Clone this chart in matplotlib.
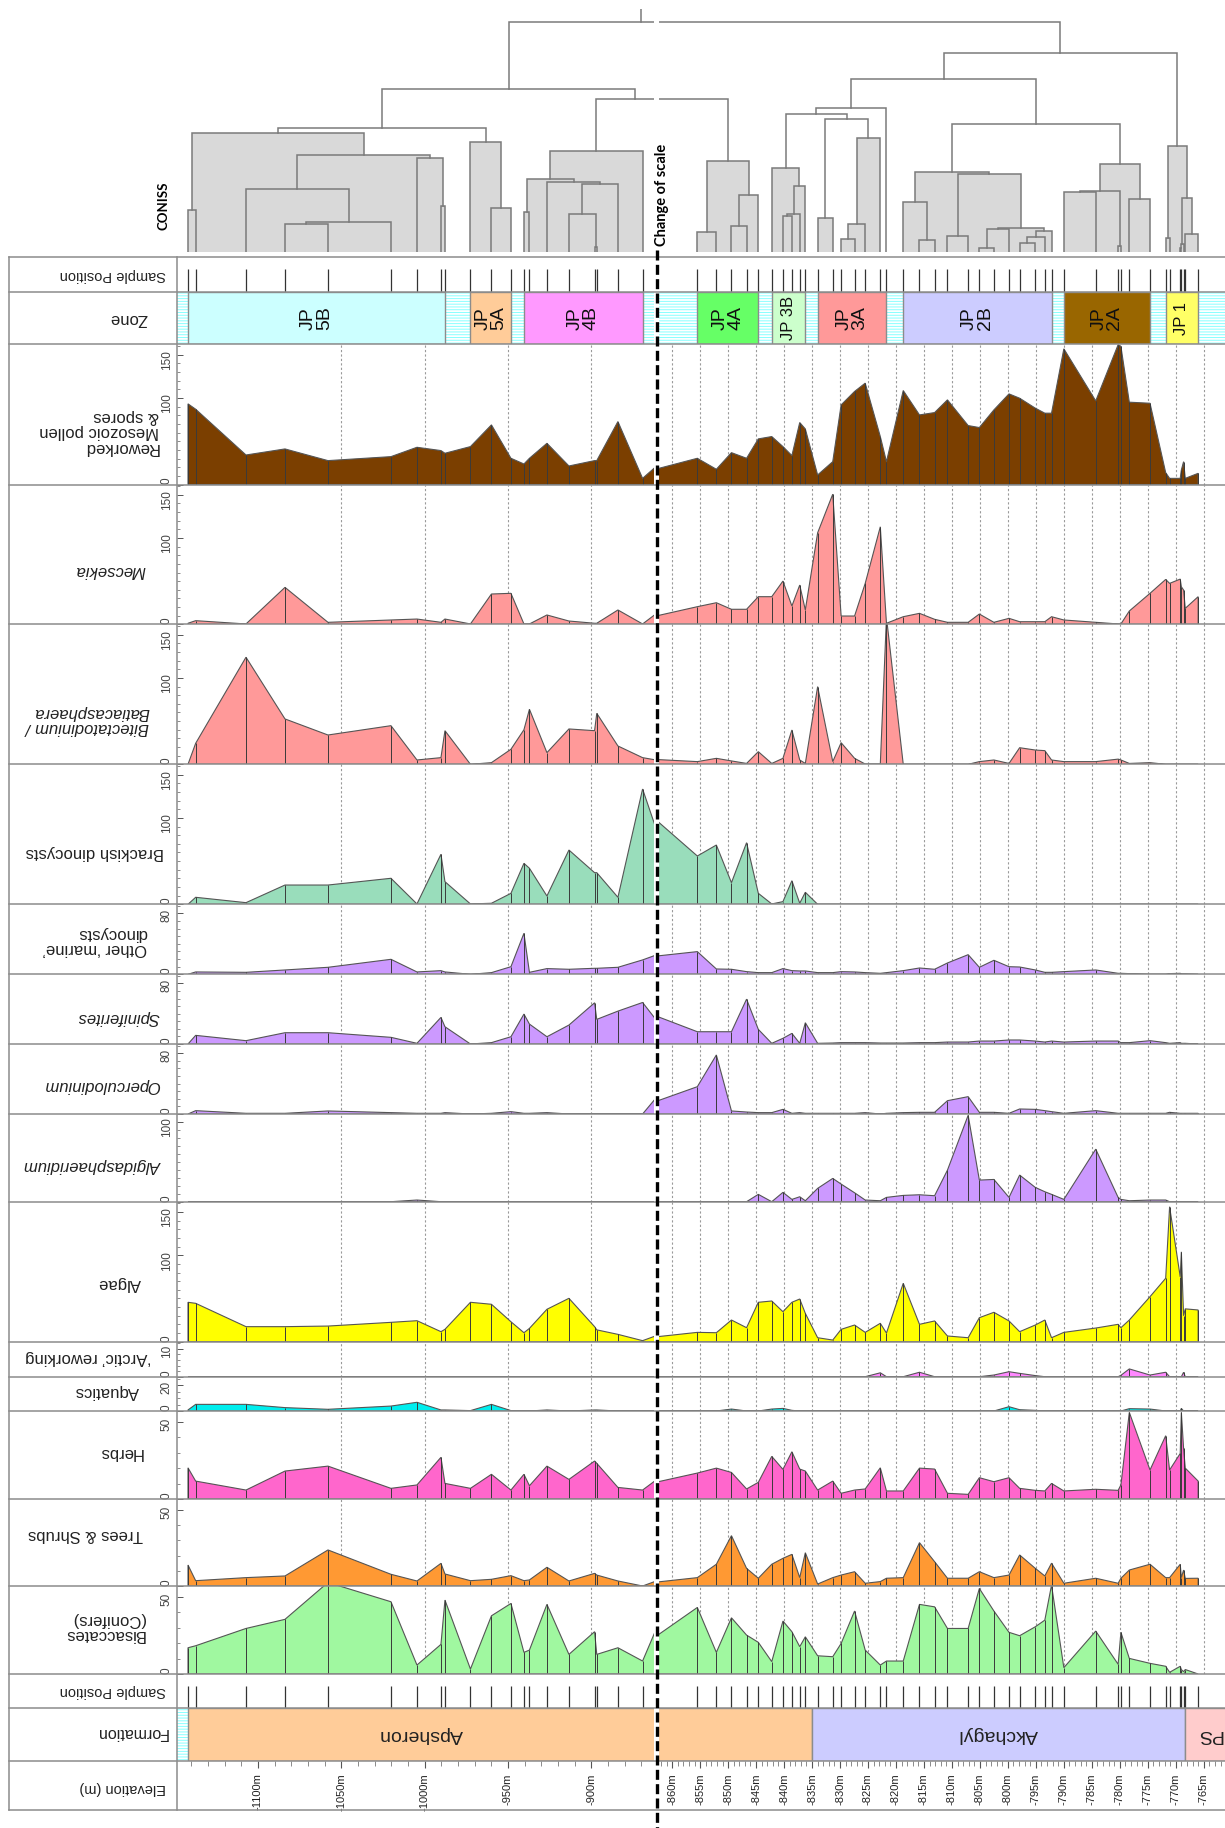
import numpy as np
import matplotlib
matplotlib.use("Agg")
import matplotlib.pyplot as plt
from matplotlib.patches import Rectangle
from matplotlib.lines import Line2D
from matplotlib.ticker import FixedLocator, MultipleLocator, FuncFormatter

# ------------------------------------------------------------------ data
elevation = [
    -1142.0, -1137.4, -1107.2, -1083.8, -1058.0, -1020.2, -1004.6, -990.2, -987.8, -972.5,
    -959.9, -948.2, -940.4, -937.1, -926.6, -913.4, -898.0, -896.7, -884.0, -869.2,
    -855.5, -852.1, -849.4, -846.7, -844.6, -842.2, -840.2, -838.6, -837.2, -836.2,
    -834.0, -831.3, -829.8, -827.4, -825.5, -822.8, -821.7, -818.7, -815.8, -813.1,
    -810.8, -807.1, -805.1, -802.5, -799.8, -797.9, -795.1, -793.4, -792.2, -790.0,
    -784.3, -780.3, -779.8, -778.3, -774.6, -771.8, -771.1, -769.2, -769.0, -768.6,
    -768.3, -766.0]

reworked = [93.2, 87, 34.1, 41.1, 27.6, 32.2, 43, 39.2, 36.1, 43.8, 68.9, 30.3, 23.7, 30.3, 47.6,
            21.4, 27.6, 27.6, 72.7, 7.1,
            30.3, 17.6, 36.8, 30.3, 52.7, 55.4, 43.8, 33.4, 71.6, 64.2, 11, 26.4, 92, 107.5, 117.1,
            55.4, 26.4, 108.6, 80.4, 83.1, 97.8, 68.1, 65.8, 86.2, 104.7, 99.7, 88.2, 82.4, 82.4,
            156.8, 96.6, 161.5, 159.5, 95.1, 93.9, 13.7, 7.1, 7.1, 16.8, 26.4, 7.1, 12.9]
mecsekia = [1.2, 4.2, 0.4, 42.8, 2.3, 5, 6.1, 2.3, 6.1, 0.4, 35.1, 35.9, 0.4, 0.4, 10.8, 3.8, 1.2,
            1.2, 16.6, 0.4,
            20.4, 25, 17.4, 17.4, 32, 32, 50.1, 21.2, 45.5, 16.6, 106, 150.8, 9.6, 9.6, 47.4, 113,
            1.2, 8.8, 12.7, 5.8, 2.3, 2.3, 11.9, 2.3, 6.9, 3, 3, 3, 8.8, 5, 2.3, 0.4, 0.4, 15.4,
            35.9, 52, 47.4, 52.4, 43.5, 39.7, 18.5, 32]
bitectatodinium = [0, 24.3, 123.9, 52.5, 33.9, 44.7, 5, 7.7, 38.9, 0, 1.9, 17.4, 40, 63.7, 13.5,
                   40.9, 38.9, 59, 21.2, 7.7,
                   3.1, 6.9, 3.9, 1, 14.6, 1, 6.9, 39.7, 5, 1, 89.9, 3.1, 25, 6.9, 0.3, 0.3, 170,
                   0, 0, 0, 0, 0, 3.1, 5, 1, 19.2, 16.5, 15.8, 5, 3.1, 3.1, 6, 5, 1, 1.9,
                   0, 0, 0, 0, 0, 0, 0]
brackish = [0, 8.1, 1.9, 22.3, 22.3, 30.1, 0.4, 57.9, 26.2, 0.4, 1.2, 12.7, 47.4, 41.7, 9.6, 62.8,
            36.6, 36.6, 8.1, 133.4,
            55.9, 68.6, 25, 71.3, 12.7, 0.4, 3.1, 27.3, 1.2, 13.9, 0, 0, 0, 0, 0, 0, 0, 0, 0, 0,
            0, 0, 0, 0, 0, 0, 0, 0, 0, 0, 0, 0, 0, 0, 0, 0, 0, 0, 0, 0, 0, 0]
other_marine = [0, 3.1, 2.6, 5.7, 9.2, 19.7, 3.1, 4.8, 3.1, 0, 2.2, 10, 53.9, 2.6, 7.5, 6.6, 7.9,
                7.9, 9.2, 18.9,
                29.8, 7, 6.6, 3.5, 2.2, 2.2, 7.5, 4.8, 4.4, 4.4, 2.2, 2.2, 3.5, 3.1, 2.2, 1.3, 2.2,
                4.8, 8.3, 6.6, 14.9, 25.8, 9.2, 18.4, 10, 9.6, 5.7, 2.6, 2.6, 3.5, 5.7, 1.3, 1.3,
                0.9, 0, 0, 0.9, 1.3, 0.5, 0.5, 0.5, 0]
spiniferites = [0, 11.4, 4.4, 14.9, 14.9, 8.8, 0.9, 35.1, 22.8, 0, 1.8, 9.6, 39.5, 26.3, 9.6, 25,
                54.4, 32.5, 43.4, 54.8,
                16.2, 16.2, 16.2, 59.2, 19.3, 0.9, 7.5, 14, 0.9, 28.1, 0.9, 1.3, 1.8, 1.8, 1.8,
                1.3, 1.3, 1.3, 1.8, 1.8, 2.6, 2.6, 3.9, 3.9, 5.3, 5.3, 3.9, 2.6, 3.9, 2.6, 3.9,
                3.9, 1.8, 1.8, 4.4, 1.8, 0.9, 1.8, 0.9, 0.9, 0.9, 0]
operculodinium = [0, 4.4, 0.9, 0.9, 4, 1.8, 0.9, 0.9, 1.8, 0, 0.9, 3.1, 0.9, 0.9, 1.8, 0, 0, 0,
                  0, 0,
                  35.9, 77.6, 4, 2.6, 1.8, 1.8, 6.1, 0.9, 1.8, 0.9, 0.9, 0.9, 0.9, 0.9, 1.8, 0,
                  0.9, 1.8, 2.2, 2.2, 17.5, 22.8, 2.2, 2.2, 0.9, 6.6, 6.1, 4.4, 3.1, 0.9, 4.4,
                  0.9, 0.9, 0.9, 0.9, 0.9, 2.2, 0.9, 0.9, 0.9, 0.9, 0.9]
algidasphaeridium = [0, 0, 0, 0, 0, 0, 2.1, 0, 0, 0, 0, 0, 0, 0, 0, 0, 0, 0, 0, 0,
                     0, 0, 0, 0, 9.2, 0, 11.7, 2.9, 6.2, 1.2, 16.7, 29.2, 22.1, 11.2, 2.1, 1.2,
                     5.4, 7.9, 8.7, 7.5, 39.6, 108.4, 27.1, 27.9, 5.4, 33.4, 17.9, 12.5, 9.2,
                     2.9, 65.9, 5.4, 2.9, 1.2, 2.1, 2.1, 0, 0, 0, 0, 0, 0]
algae = [45.6, 44.4, 17.4, 17.4, 18.1, 22.4, 24.3, 11.6, 14.3, 45.6, 43.3, 23.1, 10.4, 15.4, 37.5,
         50.2, 17.4, 13.7, 8.5, 1.2,
         10.8, 10.4, 25.1, 16.2, 45.6, 47.1, 34.7, 45.6, 49.4, 32.8, 4.6, 1.9, 14.3, 19.3, 10.8,
         21.3, 10, 67.6, 20.1, 24, 6.6, 4.6, 27.8, 34, 24, 11.6, 19.3, 25.1, 4.6, 10.8, 15.8,
         20.1, 16.2, 25.1, 52.1, 73.4, 156.2, 75, 104, 30, 38, 36.7]
arctic_reworking = [0, 0, 0, 0, 0, 0, 0, 0, 0, 0, 0, 0, 0, 0, 0, 0, 0, 0, 0, 0,
                    0, 0, 0, 0, 0, 0, 0, 0, 0, 0, 0, 0, 0, 0, 0, 1.4, 0, 0, 1.6, 0, 0, 0, 0,
                    0.6, 1.8, 1.2, 0.4, 0, 0, 0, 0, 0, 0.5, 2.8, 0.6, 1.6, 0, 0, 0, 1.6, 0, 0]
aquatics = [0.8, 5.1, 5.1, 2.6, 1.3, 3.8, 6.7, 0.8, 0.8, 0.3, 5.1, 0.3, 0, 0, 0.8, 0, 0.8, 0.8,
            0, 0,
            0, 0, 1.5, 0, 0, 1.5, 2, 0.5, 0, 0, 0, 0, 0, 0, 0, 0, 0, 0, 0, 0, 0, 0, 0, 0, 3.3,
            1, 0.5, 0, 0, 0, 0, 0, 0, 1.8, 1.5, 0, 0, 0, 2, 0, 0, 0]
herbs = [20.2, 11.6, 5.8, 18.1, 21.3, 6.9, 9.1, 27, 10.1, 6.9, 16, 5.8, 16, 8.6, 21.3, 12.7, 24.6,
         23.1, 7.5, 5.8,
         16.8, 20, 17.2, 6.5, 10.8, 27.6, 19.2, 30.6, 19.4, 18.1, 5.8, 11.6, 3.7, 5.8, 6.5, 20.2,
         5.2, 5.2, 20, 19.4, 3.7, 3, 13.8, 11.2, 13.8, 6.9, 5.6, 5.2, 10.1, 5.2, 6.3, 5.6, 9.1,
         56.1, 18.8, 41, 18.8, 29.5, 56.1, 32.8, 20, 11.6]
trees_shrubs = [13.8, 3.5, 5.5, 6.6, 23.7, 7.7, 3.3, 14.9, 7.9, 3.5, 4.4, 6.8, 3.5, 4, 12.3, 3.3,
                8.3, 7.2, 3.3, 0,
                5.5, 14.3, 33.1, 11.6, 5.1, 14.3, 18.2, 20.8, 5.5, 21.9, 1.3, 5.5, 7.2, 9.4, 1.8,
                2.9, 5.1, 5.5, 28.5, 16, 5.1, 5.1, 9.4, 5.5, 7.2, 20.4, 11.6, 6.6, 15, 1.8, 5.1,
                1.8, 5.1, 10.5, 14.3, 5.5, 5.5, 14.3, 5.5, 10.5, 5, 5.1]
bisaccates = [17, 18.3, 29.5, 35.4, 59.3, 46.8, 5.8, 19.2, 47.9, 3.2, 37.7, 45.7, 14, 15.5, 45.1,
              12.7, 27.4, 12.7, 17, 8.4,
              43.1, 14, 36.4, 25.2, 20.5, 8, 34.3, 27.4, 17.7, 24.1, 11.8, 11.2, 19.8, 40.8, 15.5,
              5.8, 8.4, 8.4, 45.1, 43.5, 29.5, 29.5, 55.4, 40.8, 27, 24.8, 30.6, 34.9, 57.6, 4.1,
              27.8, 6.3, 27, 10.1, 6.9, 5, 1.1, 5, 2.9, 1.5, 2.9, 0]

zone_names = ["JP\n5B", "JP\n5A", "JP\n4B", "JP\n4A", "JP 3B", "JP\n3A", "JP\n2B", "JP\n2A", "JP 1"]
zone_start = [-1142.0, -972.5, -940.4, -855.5, -842.2, -834.0, -818.7, -790.0, -771.8]
zone_end = [-987.8, -948.2, -869.2, -844.6, -836.2, -821.7, -792.2, -774.6, -766.0]
zone_colors = ["#ccffff", "#ffcc99", "#ff99ff", "#66ff66", "#ccffcc", "#ff9999", "#ccccff",
               "#996600", "#ffff66"]

formation_names = ["Apsheron", "Akchagyl", "PS"]
formation_start = [-1142.0, -835.0, -768.4]
formation_end = [-835.0, -768.4, -759.6]
formation_colors = ["#ffcc99", "#ccccff", "#ffcccc"]

# CONISS merges: (child a, child b, total dispersion); leaves 0-61, clusters from 62
coniss_merges = [
    (0, 1, 4.17), (3, 4, 2.77), (63, 5, 2.97), (2, 64, 6.27), (7, 8, 4.57), (6, 66, 9.37),
    (65, 67, 9.67), (62, 68, 11.87), (10, 11, 4.37), (9, 70, 10.97), (69, 71, 12.37),
    (12, 13, 3.97), (16, 17, 0.5), (15, 74, 3.77), (75, 18, 6.77), (14, 76, 6.97),
    (73, 77, 7.27), (78, 19, 10.07),
    (20, 21, 1.97), (22, 23, 2.57), (81, 24, 5.67), (80, 82, 9.07), (79, 83, 15.27),
    (72, 84, 16.27),
    (26, 27, 3.57), (86, 28, 3.77), (87, 29, 6.57), (25, 88, 8.37), (30, 31, 3.37),
    (32, 33, 1.24), (91, 34, 2.77), (92, 35, 11.4), (90, 93, 13.27), (89, 94, 13.74),
    (95, 36, 14.34), (38, 39, 1.17), (37, 97, 4.97), (40, 41, 1.57), (42, 43, 0.37),
    (100, 44, 2.27), (45, 46, 0.87), (102, 47, 1.47), (103, 48, 2.07), (101, 104, 2.37),
    (99, 105, 7.77), (98, 106, 7.97), (49, 50, 5.97), (51, 52, 0.57), (108, 109, 6.07),
    (53, 54, 5.27), (110, 111, 8.77), (107, 112, 12.77), (96, 113, 17.27), (55, 56, 1.37),
    (57, 58, 0.37), (116, 59, 0.77), (60, 61, 1.77), (117, 118, 5.37), (115, 119, 10.57),
    (114, 120, 19.87), (85, 121, 22.97)]

# ------------------------------------------------------------------ layout
W, H = 1225, 1828
plt.rcParams['font.family'] = ['Liberation Sans', 'DejaVu Sans']
plt.rcParams['hatch.linewidth'] = 0.7
fig = plt.figure(figsize=(W / 100, H / 100), dpi=100)

LX = (177, 654)
RX = (659, 1225)
XL = (-1148.6, -862.35)
XR = (-862.35, -761.2)
grid_left = [-1050, -1000, -950, -900]
grid_right = list(range(-860, -764, 5))


def px_ax(x0, x1, y0, y1):
    return fig.add_axes([x0 / W, 1 - y1 / H, (x1 - x0) / W, (y1 - y0) / H])


def row_axes(y0, y1):
    axl = px_ax(LX[0], LX[1], y0, y1)
    axr = px_ax(RX[0], RX[1], y0, y1)
    for ax, xl in ((axl, XL), (axr, XR)):
        ax.set_xlim(*xl)
        ax.set_facecolor('none')
        for s in ax.spines.values():
            s.set_visible(False)
        ax.set_xticks([])
        ax.set_yticks([])
    return axl, axr


def ftext(x, y, s, **kw):
    fig.text(x / W, 1 - y / H, s, **kw)


# ---------------------------------------------------------- dendrogram
pos = list(elevation)
hts = [0.0] * len(elevation)
for a, b, h in coniss_merges:
    pos.append((pos[a] + pos[b]) / 2)
    hts.append(h)
fill_threshold = 12.1
dl, dr = row_axes(9.3, 251.7)
for ax in (dl, dr):
    ax.set_ylim(0, 24.24)
    for a, b, h in coniss_merges:
        if h < fill_threshold:
            ax.add_patch(Rectangle((min(pos[a], pos[b]), 0), abs(pos[b] - pos[a]), h,
                                   facecolor='#d9d9d9', edgecolor='none', zorder=1))
    for a, b, h in coniss_merges:
        ax.plot([pos[a], pos[a], pos[b], pos[b]], [hts[a], h, h, hts[b]],
                color='#7a7a7a', lw=1.1, zorder=2, solid_joinstyle='miter')
    ax.plot([pos[-1], pos[-1]], [hts[-1], 24.24], color='#7a7a7a', lw=1.1, zorder=2)

ftext(163, 206, "CONISS", rotation=90, fontsize=9.5, fontweight='bold',
      family=['Lato', 'DejaVu Sans'], ha='center', va='center')
ftext(662, 195, "Change of scale", rotation=90, fontsize=10.5, fontweight='bold',
      family=['Lato', 'DejaVu Sans'], ha='center', va='center')


# ---------------------------------------------------------- sample rows
def sample_row(y0, y1):
    for ax in row_axes(y0, y1):
        ax.set_ylim(0, 1)
        ax.vlines(elevation, 0, 0.66, colors='#333333', lw=0.9)


sample_row(256.7, 292.3)
sample_row(1674, 1708.3)


# ---------------------------------------------------------- zone / formation rows
def band_row(y0, y1, starts, ends, colors):
    axl, axr = row_axes(y0, y1)
    for ax, xl in ((axl, XL), (axr, XR)):
        ax.set_ylim(0, 1)
        ax.add_patch(Rectangle((xl[0], 0), xl[1] - xl[0], 1, facecolor='white',
                               edgecolor='#88ffff', hatch='------', lw=0, zorder=0))
        for s, e, c in zip(starts, ends, colors):
            ax.add_patch(Rectangle((s, 0), e - s, 1, facecolor=c, edgecolor='#8c8c8c',
                                   lw=1, zorder=1))
    return axl, axr


zl, zr = band_row(292.3, 344.3, zone_start, zone_end, zone_colors)
for s, e, name in zip(zone_start, zone_end, zone_names):
    mid = (s + e) / 2
    ax = zl if mid < XL[1] else zr
    fs = 14 if "\n" in name else 12
    ax.text(mid, 0.5, name, rotation=90, ha='center', va='center', fontsize=fs,
            linespacing=0.92, color='#111111', zorder=3)

fl, fr = band_row(1708.3, 1761, formation_start, formation_end, formation_colors)
for s, e, name in zip(formation_start, formation_end, formation_names):
    if s < XL[1]:
        mid = (s + XL[1]) / 2
        ax = fl
    else:
        mid = (s + e) / 2
        ax = fr
    ax.text(mid, 0.5, name, rotation=180, ha='center', va='center', fontsize=14,
            color='#222222', zorder=3)

# ---------------------------------------------------------- taxa panels
panels = [
    ("Reworked\nMesozoic pollen\n& spores", reworked, '#7b3f00', 162, [0, 100, 150], 10, False,
     344.3, 484.5, 159, 432),
    ("Mecsekia", mecsekia, '#ff9999', 162, [0, 100, 150], 10, True, 484.5, 624.3, 145, 570),
    ("Bitectatodinium /\nBatiacasphaera", bitectatodinium, '#ff9999', 162, [0, 100, 150], 10,
     True, 624.3, 764.3, 149, 720),
    ("Brackish dinocysts", brackish, '#99ddbb', 162, [0, 100, 150], 10, False, 764.3, 904.3,
     164, 852),
    ("Other \u2018marine\u2019\ndinocysts", other_marine, '#cc99ff', 92, [0, 80], 10, False,
     904.3, 974.3, 147, 941),
    ("Spiniferites", spiniferites, '#cc99ff', 92, [0, 80], 10, True, 974.3, 1044, 160, 1018),
    ("Operculodinium", operculodinium, '#cc99ff', 92, [0, 80], 10, True, 1044, 1114, 160, 1085),
    ("Algidasphaeridium", algidasphaeridium, '#cc99ff', 110, [0, 100], 10, True, 1114, 1201.7,
     162, 1165),
    ("Algae", algae, '#ffff00', 162, [0, 100, 150], 10, False, 1201.7, 1341.7, 141, 1284),
    ("\u2018Arctic\u2019 reworking", arctic_reworking, '#ff88ff', 12.6, [0, 10], 2, False,
     1341.7, 1376.7, 151, 1358),
    ("Aquatics", aquatics, '#00eeee', 26.4, [0, 20], 5, False, 1376.7, 1411, 139, 1392),
    ("Herbs", herbs, '#ff66cc', 57, [0, 50], 10, False, 1411, 1499, 143, 1452),
    ("Trees & Shrubs", trees_shrubs, '#ff9933', 57.2, [0, 50], 10, False, 1499, 1586, 143, 1535),
    ("Bisaccates\n(Conifers)", bisaccates, '#a0f8a0', 57, [0, 50], 10, False, 1586, 1674, 145,
     1627),
]

xs_poly = [elevation[0]] + elevation + [elevation[-1]]
for (label, vals, color, ymax, ticks, minor, italic, y0, y1, lx, ly) in panels:
    axl, axr = row_axes(y0, y1)
    ys_poly = [0] + list(vals) + [0]
    for ax, grid in ((axl, grid_left), (axr, grid_right)):
        ax.set_ylim(0, ymax)
        for g in grid:
            ax.axvline(g, color='#9a9a9a', lw=0.8, ls=(0, (2, 2)), zorder=0)
        ax.fill(xs_poly, ys_poly, facecolor=color, edgecolor='#555555', lw=0.8, zorder=2)
        ax.vlines(elevation, 0, vals, colors='#3a3a3a', lw=0.7, zorder=3)
    axl.yaxis.set_major_locator(FixedLocator(ticks))
    axl.yaxis.set_minor_locator(MultipleLocator(minor))
    axl.tick_params(axis='y', which='major', direction='in', length=4, width=0.7,
                    colors='#555555', labelsize=8.5, labelrotation=90, pad=3,
                    labelcolor='#444444')
    axl.tick_params(axis='y', which='minor', direction='in', length=2.5, width=0.6,
                    colors='#777777')
    for tl in axl.get_yticklabels():
        if tl.get_text() == '0':
            tl.set_va('bottom')
    ftext(lx, ly, label, rotation=180, ha='right', va='center', fontsize=12,
          style='italic' if italic else 'normal', multialignment='left', color='#222222',
          linespacing=1.05)

# ---------------------------------------------------------- elevation axis
el_major_left = [-1100, -1050, -1000, -950, -900]
el_major_right = list(range(-860, -764, 5))
for (x0, x1), xl, major, minor in ((LX, XL, el_major_left, 10), (RX, XR, el_major_right, 1)):
    ax = px_ax(x0, x1, 1755, 1761)
    ax.set_xlim(*xl)
    ax.set_facecolor('none')
    for s in ax.spines.values():
        s.set_visible(False)
    ax.set_yticks([])
    ax.xaxis.set_major_locator(FixedLocator(major))
    ax.xaxis.set_minor_locator(MultipleLocator(minor))
    ax.xaxis.set_major_formatter(FuncFormatter(lambda v, p: f"{v:.0f}m"))
    ax.tick_params(axis='x', which='major', direction='out', length=5, width=0.8,
                   colors='#555555', labelsize=8, labelrotation=90, pad=4,
                   labelcolor='#222222')
    ax.tick_params(axis='x', which='minor', direction='out', length=3.5, width=0.6,
                   colors='#777777')

# ---------------------------------------------------------- row labels (fixed rows)
ftext(166, 275, "Sample Position", rotation=180, ha='right', va='center', fontsize=10.5,
      color='#222222')
ftext(147, 318, "Zone", rotation=180, ha='right', va='center', fontsize=12, color='#222222')
ftext(166, 1691, "Sample Position", rotation=180, ha='right', va='center', fontsize=10.5,
      color='#222222')
ftext(168, 1733, "Formation", rotation=180, ha='right', va='center', fontsize=11.5,
      color='#222222')
ftext(166, 1788, "Elevation (m)", rotation=180, ha='right', va='center', fontsize=10.5,
      color='#222222')

# ---------------------------------------------------------- frame lines
row_edges = [256.7, 292.3, 344.3, 484.5, 624.3, 764.3, 904.3, 974.3, 1044, 1114, 1201.7,
             1341.7, 1376.7, 1411, 1499, 1586, 1674, 1708.3, 1761, 1810]
for y in row_edges:
    fig.add_artist(Line2D([9 / W, 1.0], [1 - y / H] * 2, color='#8c8c8c', lw=1.1, zorder=5))
for x in (9, 177):
    fig.add_artist(Line2D([x / W] * 2, [1 - 256.7 / H, 1 - 1810 / H], color='#8c8c8c',
                          lw=1.1, zorder=5))
fig.add_artist(Line2D([656.5 / W] * 2, [1 - 250 / H, 0.0], color='black', lw=2.4,
                      dashes=(3.0, 1.3), zorder=6))

fig.savefig("out.png", dpi=100)
